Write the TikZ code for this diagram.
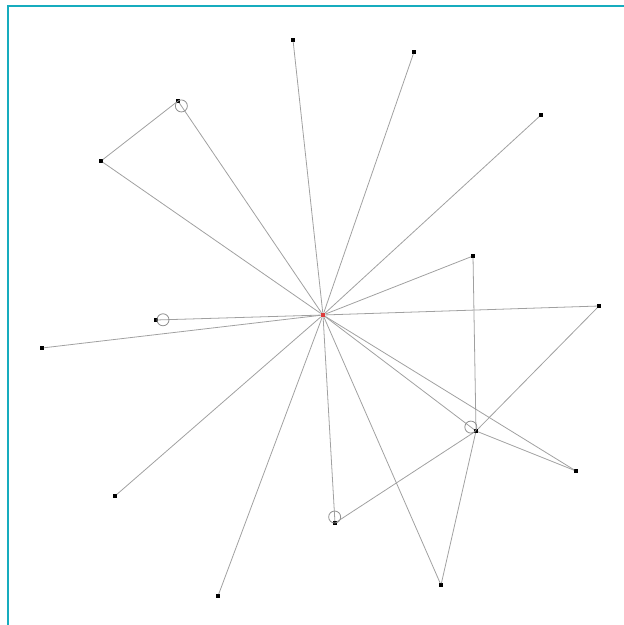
\documentclass[tikz,border=0pt]{standalone}
\usetikzlibrary{calc}
\definecolor{Marco}{RGB}{22,172,190}
\definecolor{Arista}{RGB}{160,160,160}
\definecolor{Centro}{RGB}{220,60,60}
\tikzset{
  vert/.style={rectangle, fill=black, inner sep=0pt, minimum size=1.8pt},
  centro/.style={rectangle, fill=Centro, inner sep=0pt, minimum size=2.2pt},
  arista/.style={draw=Arista, line width=0.45pt},
  marca/.style={circle, draw=Arista!90!black, line width=0.45pt, inner sep=0pt, minimum size=0.24cm},
  marco/.style={draw=Marco, line width=1.2pt},
}
\begin{document}
\begin{tikzpicture}[x=0.02cm, y=-0.02cm]
    \useasboundingbox (0,0) rectangle (624,625);
    \coordinate (esqA) at (8,625);
    \coordinate (esqB) at (8,6);
    \coordinate (esqC) at (624,6);
    \draw[marco] (esqA) -- (esqB) -- (esqC);
    % vertices
    \node[centro] (c) at (323,315) {};
    \node[vert] (p1) at (293,40) {};
    \node[vert] (p2) at (414,52) {};
    \node[vert] (p3) at (541,115) {};
    \node[vert] (p4) at (178,101) {};
    \node[vert] (p5) at (101,161) {};
    \node[vert] (p6) at (473,256) {};
    \node[vert] (p7) at (599,306) {};
    \node[vert] (p8) at (156,320) {};
    \node[vert] (p9) at (42,348) {};
    \node[vert] (p10) at (476,431) {};
    \node[vert] (p11) at (576,471) {};
    \node[vert] (p12) at (115,496) {};
    \node[vert] (p13) at (335,523) {};
    \node[vert] (p14) at (441,585) {};
    \node[vert] (p15) at (218,596) {};
    % aristas desde el centro
    \foreach \v in {p1,p2,p3,p4,p5,p6,p7,p8,p9,p10,p11,p12,p13,p14,p15}
      \draw[arista] (c) -- (\v);
    % aristas entre vertices
    \draw[arista] (p4) -- (p5);
    \draw[arista] (p6) -- (p10);
    \draw[arista] (p10) -- (p7);
    \draw[arista] (p10) -- (p11);
    \draw[arista] (p10) -- (p13);
    \draw[arista] (p10) -- (p14);
    % marcas circulares
    \node[marca] (m4) at ($(p4)!0.12cm!(c)$) {};
    \node[marca] (m8) at ($(p8)!0.14cm!(c)$) {};
    \node[marca] (m10) at ($(p10)!0.13cm!(c)$) {};
    \node[marca] (m13) at ($(p13)!0.12cm!(c)$) {};
\end{tikzpicture}
\end{document}
